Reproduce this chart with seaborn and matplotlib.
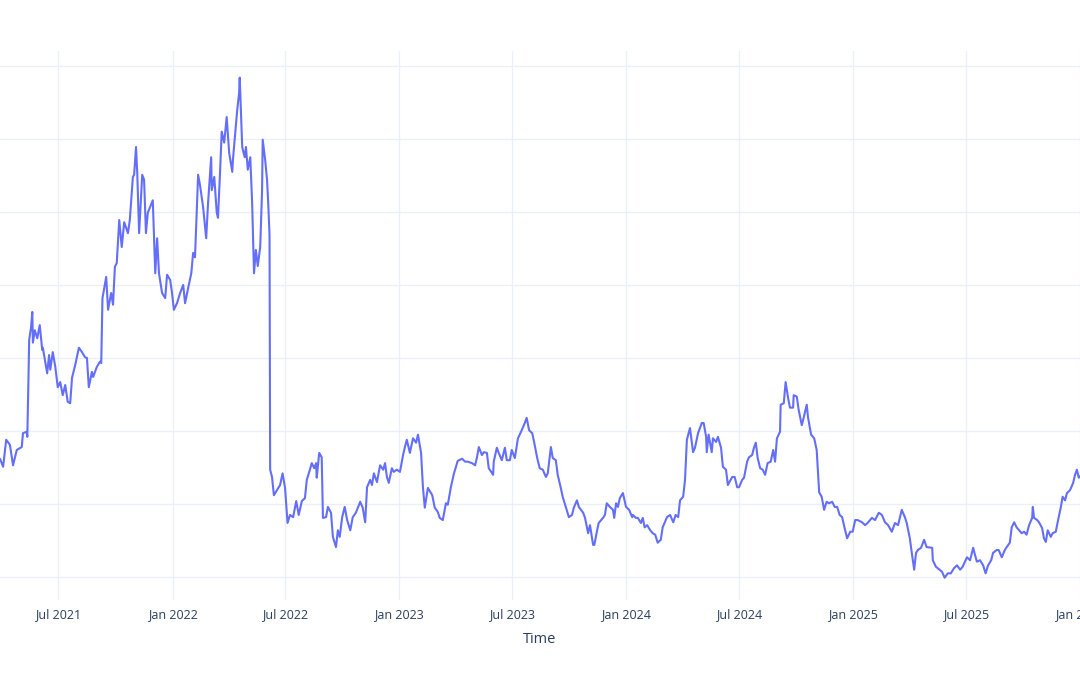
import matplotlib
matplotlib.use('Agg')
import matplotlib.dates as mdates
import matplotlib.pyplot as plt
import numpy as np
import pandas as pd
import seaborn as sns

# %%
# series: days since 2021-03-29 and value
start_date = '2021-03-29'
end_date = '2026-01-01'

days = [
    0, 5, 10, 16, 21, 27, 35, 37, 43, 44, 47, 50, 52, 53, 56, 60, 64, 68, 69, 76,
    79, 81, 85, 89, 93, 97, 101, 105, 109, 113, 116, 121, 127, 132, 137, 140, 143, 148, 150, 156,
    161, 163, 165, 171, 174, 179, 182, 185, 188, 192, 196, 200, 206, 209, 214, 216, 219, 221, 224, 229,
    232, 235, 238, 246, 250, 253, 256, 261, 266, 269, 274, 277, 280, 285, 290, 295, 298, 303, 308, 311,
    314, 317, 319, 322, 327, 332, 335, 340, 341, 345, 349, 351, 354, 357, 361, 365, 369, 374, 375, 382,
    385, 386, 390, 394, 396, 399, 403, 406, 409, 412, 415, 419, 422, 423, 427, 430, 432, 434, 435, 438,
    441, 446, 451, 455, 459, 463, 467, 472, 477, 481, 486, 491, 494, 499, 502, 506, 509, 510, 514, 518,
    520, 525, 528, 533, 536, 541, 544, 547, 551, 555, 559, 564, 568, 573, 580, 584, 588, 591, 596, 599,
    602, 607, 612, 617, 620, 623, 626, 631, 634, 639, 644, 649, 652, 655, 660, 665, 670, 673, 678, 681,
    684, 689, 696, 700, 705, 708, 713, 718, 721, 726, 731, 737, 744, 749, 753, 760, 765, 768, 771, 776,
    779, 784, 787, 794, 795, 800, 803, 808, 813, 816, 821, 824, 829, 834, 839, 842, 845, 848, 852, 857,
    860, 865, 869, 874, 879, 882, 887, 890, 895, 898, 903, 906, 911, 916, 921, 924, 929, 932, 939, 942,
    947, 950, 955, 957, 961, 964, 971, 974, 977, 982, 987, 989, 992, 995, 998, 1003, 1008, 1013, 1018, 1019,
    1024, 1027, 1032, 1035, 1038, 1042, 1047, 1051, 1055, 1059, 1064, 1067, 1074, 1079, 1084, 1088, 1092, 1095, 1100, 1103,
    1106, 1111, 1116, 1119, 1124, 1130, 1133, 1137, 1138, 1141, 1146, 1148, 1153, 1156, 1161, 1164, 1169, 1172, 1179, 1183,
    1187, 1190, 1195, 1198, 1203, 1206, 1211, 1214, 1217, 1220, 1224, 1228, 1232, 1236, 1241, 1245, 1248, 1251, 1256, 1257,
    1262, 1265, 1269, 1272, 1277, 1278, 1283, 1286, 1291, 1294, 1299, 1301, 1306, 1311, 1314, 1315, 1319, 1323, 1327, 1331,
    1335, 1340, 1344, 1348, 1352, 1356, 1360, 1364, 1369, 1373, 1377, 1381, 1388, 1393, 1397, 1404, 1409, 1415, 1420, 1425,
    1430, 1436, 1441, 1446, 1452, 1457, 1460, 1465, 1468, 1472, 1475, 1478, 1483, 1488, 1492, 1501, 1502, 1507, 1510, 1517,
    1521, 1526, 1531, 1536, 1541, 1546, 1550, 1557, 1562, 1567, 1570, 1573, 1578, 1583, 1587, 1591, 1596, 1599, 1605, 1608,
    1613, 1618, 1621, 1626, 1629, 1633, 1637, 1641, 1645, 1649, 1653, 1657, 1662, 1663, 1665, 1670, 1673, 1678, 1681, 1684,
    1687, 1692, 1695, 1700, 1703, 1708, 1711, 1715, 1718, 1723, 1728, 1731, 1734, 1737, 1739,
]

values = [
    26.2, 25.1, 28.8, 28.1, 25.3, 27.4, 27.8, 29.7, 29.9, 29.2, 42.5, 44.2, 46.3, 42.1, 43.8, 42.7, 44.5, 41.1, 41.4, 37.9,
    40.4, 38.4, 40.8, 38.8, 36.0, 36.7, 34.9, 36.3, 34.0, 33.8, 37.3, 39.0, 41.4, 40.8, 40.1, 40.0, 36.0, 38.1, 37.4, 38.8,
    39.5, 39.3, 48.2, 51.1, 46.6, 48.9, 47.3, 52.5, 53.0, 58.9, 55.2, 58.6, 57.1, 58.9, 64.8, 65.1, 68.9, 65.3, 57.1, 65.1,
    64.4, 57.1, 59.9, 61.6, 51.6, 56.4, 51.6, 48.9, 48.2, 51.4, 50.7, 48.9, 46.6, 47.5, 48.9, 50.0, 47.5, 49.6, 51.6, 54.4,
    53.8, 60.7, 65.1, 63.7, 60.7, 56.4, 61.2, 67.5, 63.0, 64.8, 59.9, 59.2, 64.8, 71.0, 69.5, 73.0, 68.1, 65.5, 67.1, 74.0,
    76.3, 78.4, 68.9, 67.5, 68.9, 65.8, 67.5, 61.2, 51.6, 54.8, 52.6, 55.2, 63.0, 69.9, 67.1, 64.4, 61.0, 56.8, 24.7, 23.7,
    21.2, 21.9, 22.6, 24.2, 22.2, 17.4, 18.5, 18.2, 20.4, 18.5, 20.4, 20.8, 23.3, 24.7, 25.6, 24.9, 25.6, 23.6, 27.0, 26.4,
    18.1, 18.2, 19.6, 18.8, 15.5, 14.1, 16.4, 15.5, 18.2, 19.6, 17.8, 16.4, 18.2, 18.8, 20.3, 19.5, 17.5, 22.3, 23.3, 22.6,
    24.2, 23.0, 25.3, 24.7, 25.6, 23.7, 22.9, 24.9, 24.4, 24.7, 24.4, 26.7, 27.8, 28.8, 27.0, 29.0, 28.4, 29.5, 27.0, 22.3,
    19.5, 22.2, 21.2, 19.5, 18.9, 18.1, 17.8, 20.1, 19.9, 22.3, 24.2, 25.9, 26.2, 25.8, 25.8, 25.6, 25.3, 26.4, 27.8, 26.7,
    27.1, 27.0, 24.9, 24.0, 25.8, 27.7, 27.0, 26.0, 27.7, 26.0, 26.0, 27.4, 26.3, 29.0, 29.9, 30.5, 31.1, 31.8, 30.1, 29.7,
    28.5, 26.3, 24.9, 24.7, 23.7, 24.2, 27.8, 26.3, 26.0, 24.0, 22.2, 21.0, 19.6, 18.2, 18.5, 19.5, 20.5, 19.6, 18.8, 18.1,
    16.0, 17.1, 14.4, 14.4, 16.2, 17.4, 18.1, 18.5, 20.1, 19.6, 19.2, 18.1, 20.1, 19.6, 20.8, 21.5, 19.6, 19.2, 18.2, 18.5,
    18.1, 18.1, 17.4, 18.1, 16.8, 17.1, 16.4, 16.0, 15.8, 14.7, 15.1, 16.8, 18.2, 18.5, 17.5, 18.5, 18.2, 20.5, 21.0, 23.3,
    28.8, 30.4, 27.1, 27.7, 29.7, 31.1, 31.1, 29.2, 27.1, 29.5, 27.1, 29.0, 28.5, 29.2, 27.7, 25.1, 24.7, 22.6, 23.7, 23.7,
    22.3, 22.3, 23.3, 23.6, 25.8, 26.4, 26.7, 27.7, 28.4, 26.3, 24.9, 24.7, 24.0, 25.6, 25.8, 27.4, 25.8, 29.0, 29.9, 33.6,
    33.8, 36.7, 34.5, 33.2, 33.2, 34.9, 34.7, 32.9, 30.8, 31.8, 33.6, 31.9, 29.5, 29.0, 27.8, 27.4, 21.6, 21.0, 19.2, 20.3,
    20.1, 20.3, 19.6, 19.6, 18.5, 18.2, 16.7, 15.3, 16.2, 16.2, 17.8, 17.8, 17.5, 17.1, 17.4, 18.1, 17.8, 18.8, 18.5, 17.5,
    17.1, 16.2, 17.4, 17.1, 19.2, 18.2, 17.4, 15.3, 13.4, 11.0, 13.3, 13.7, 14.0, 15.1, 14.1, 14.0, 12.3, 11.4, 11.2, 10.7,
    9.9, 10.5, 10.5, 11.2, 11.6, 11.0, 11.4, 12.7, 12.3, 14.0, 13.0, 12.1, 12.3, 11.6, 10.5, 11.6, 12.3, 13.3, 13.7, 13.7,
    12.7, 13.7, 14.1, 14.7, 16.8, 17.5, 16.8, 16.4, 16.0, 16.2, 15.8, 17.1, 18.1, 19.6, 18.1, 17.8, 17.5, 16.7, 15.3, 14.8,
    16.4, 15.5, 16.0, 16.2, 17.5, 19.5, 21.0, 20.5, 21.5, 21.9, 22.9, 24.0, 24.7, 23.6, 23.8,
]

y_ticks = [10, 20, 30, 40, 50, 60, 70, 80]

line_color = '#636efa'
grid_color = '#ebf0f8'
text_color = '#2a3f5f'

df = pd.DataFrame(
    {
        'Time': pd.Timestamp(start_date) + pd.to_timedelta(days, unit='D'),
        'value': values,
    }
)

# %%
sns.set_theme(style='white')
plt.rcParams['font.family'] = ['Open Sans', 'DejaVu Sans']

fig = plt.figure(figsize=(10.8, 6.75), dpi=100)
# plot area runs past the left/right edges like the cropped original
ax = fig.add_axes([0, 75 / 675, 1, 549 / 675])

sns.lineplot(data=df, x='Time', y='value', ax=ax, color=line_color,
             linewidth=1.5, estimator=None)

ax.set_xlim(pd.Timestamp(start_date), pd.Timestamp(end_date))
ax.set_ylim(6.85, 82.05)
ax.set_yticks(y_ticks)

ax.xaxis.set_major_locator(mdates.MonthLocator(bymonth=[1, 7]))
ax.xaxis.set_major_formatter(mdates.DateFormatter('%b %Y'))

ax.grid(True, color=grid_color, linewidth=1)
ax.set_axisbelow(True)
for s in ax.spines.values():
    s.set_visible(False)

ax.tick_params(axis='x', length=0, pad=5.5, labelsize=9, labelcolor=text_color)
ax.tick_params(axis='y', length=0, labelleft=False)
ax.set_ylabel('')
ax.set_xlabel('Time', fontsize=10.5, color=text_color, labelpad=8)

fig.savefig('out.png', dpi=100)
